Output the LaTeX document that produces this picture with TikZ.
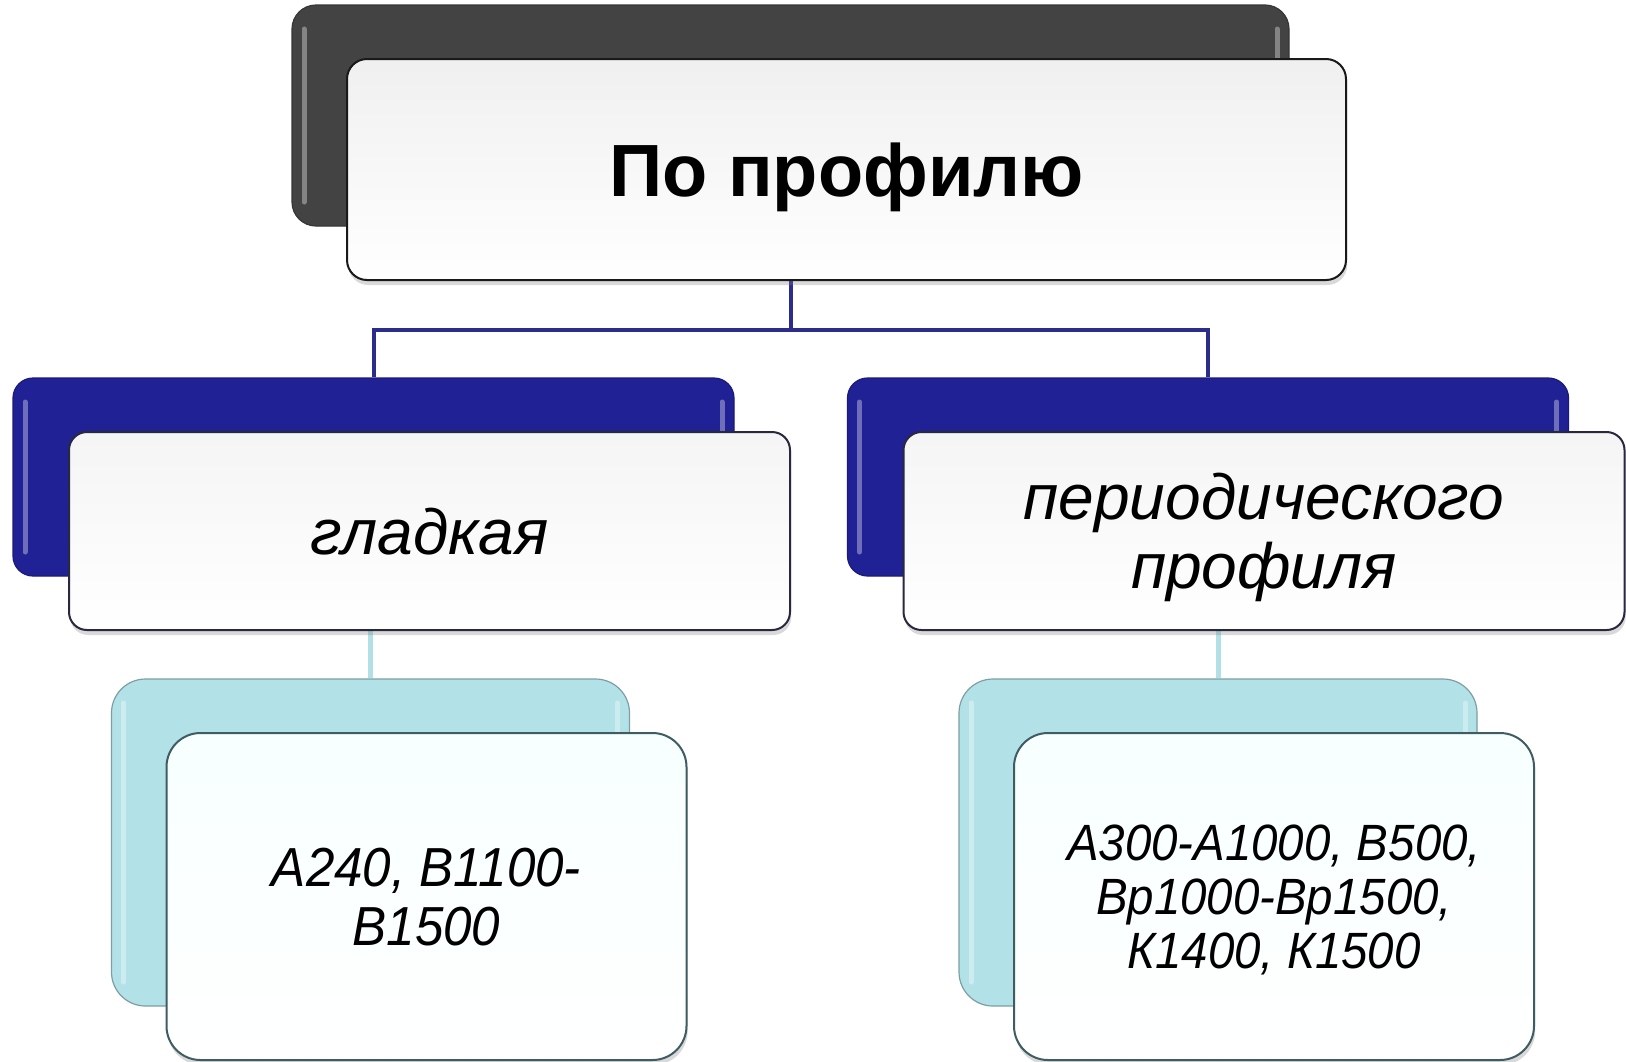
\documentclass[tikz,border=0pt]{standalone}
\usepackage{fontspec}
\setmainfont{Liberation Sans}
\newfontfamily\narrowsans[FakeStretch=0.93]{Liberation Sans}
\usepackage{xcolor}
\usepackage{tikz}
\usetikzlibrary{shapes,shadows,backgrounds}

\definecolor{darkback}{RGB}{67,67,67}
\definecolor{blueback}{RGB}{33,33,150}
\definecolor{cyanback}{RGB}{178,226,232}
\definecolor{navyline}{RGB}{44,44,140}
\definecolor{cyanline}{RGB}{178,224,230}
\definecolor{topedge}{RGB}{25,25,25}
\definecolor{midedge}{RGB}{40,40,62}
\definecolor{botedge}{RGB}{62,92,98}

\begin{document}
\begin{tikzpicture}[x=0.5pt, y=-0.5pt, semithick, inner sep=2pt]

      \tikzstyle{backbox}=[rectangle, line width=0.6pt, path picture={
        \draw[white, opacity=0.35, line width=2.5pt, line cap=round]
          ([shift={(6pt,-12pt)}]path picture bounding box.north west) -- ([shift={(6pt,12pt)}]path picture bounding box.south west)
          ([shift={(-6pt,-12pt)}]path picture bounding box.north east) -- ([shift={(-6pt,12pt)}]path picture bounding box.south east);}]
      \tikzstyle{topback}=[backbox, rounded corners=12pt, fill=darkback, draw=darkback!80!black, minimum width=498.5pt, minimum height=110.5pt]
      \tikzstyle{midback}=[backbox, rounded corners=10pt, fill=blueback, draw=blueback!80!black, minimum width=360.5pt, minimum height=99pt]
      \tikzstyle{botback}=[backbox, rounded corners=17pt, fill=cyanback, draw=cyanback!70!black, minimum width=259pt, minimum height=163.5pt]
      \tikzstyle{frontbox}=[rectangle, line width=1pt, align=center, text depth=0pt, xshift=28pt, yshift=-27pt,
        drop shadow={shadow xshift=0.6pt, shadow yshift=-2.5pt, opacity=0.3}]
      \tikzstyle{topfront}=[frontbox, rounded corners=10pt, draw=topedge, top color=black!6, bottom color=white,
        minimum width=499.5pt, minimum height=110.5pt, font=\fontsize{37}{40}\selectfont\bfseries]
      \tikzstyle{midfront}=[frontbox, rounded corners=9pt, draw=midedge, top color=blue!5!black!4, bottom color=white,
        minimum width=360.5pt, minimum height=99pt, font=\fontsize{32}{34.5}\selectfont\itshape]
      \tikzstyle{botfront}=[frontbox, rounded corners=17pt, draw=botedge, top color=cyan!3, bottom color=white,
        minimum width=260pt, minimum height=163.5pt, font=\narrowsans\fontsize{27.5}{29.5}\selectfont\itshape]

      \useasboundingbox (0,0) rectangle (1626,1061);

      \node[topback] (topb) at (790.5,115.5) {};
      \node[topfront] (top) at (topb) {По профилю};

      \node[midback] (leftb) at (373.5,477) {};
      \node[midfront] (left) at (leftb) {гладкая};
      \node[midback] (rightb) at (1208,477) {};
      \node[midfront] (right) at (rightb) {периодического\\профиля};

      \node[botback] (leftlb) at (370.5,842.5) {};
      \node[botfront] (leftl) at (leftlb) {А240, В1100-\\В1500};
      \node[botback] (rightlb) at (1218,842.5) {};
      \node[botfront, font=\narrowsans\fontsize{25.5}{27}\selectfont\itshape] (rightl) at (rightlb) {А300-А1000, В500,\\Вр1000-Вр1500,\\К1400, К1500};

      \begin{scope}[on background layer]
        \coordinate (fork) at (topb.south |- 0,330);
        \draw[navyline, line width=2pt] (topb.south) -- (fork) -| (leftb.north);
        \draw[navyline, line width=2pt] (fork) -| (rightb.north);
        \draw[cyanline, line width=2.5pt] (leftlb.north) -- (leftlb.north |- left.south);
        \draw[cyanline, line width=2.5pt] (rightlb.north) -- (rightlb.north |- right.south);
      \end{scope}
    \end{tikzpicture}
\end{document}
